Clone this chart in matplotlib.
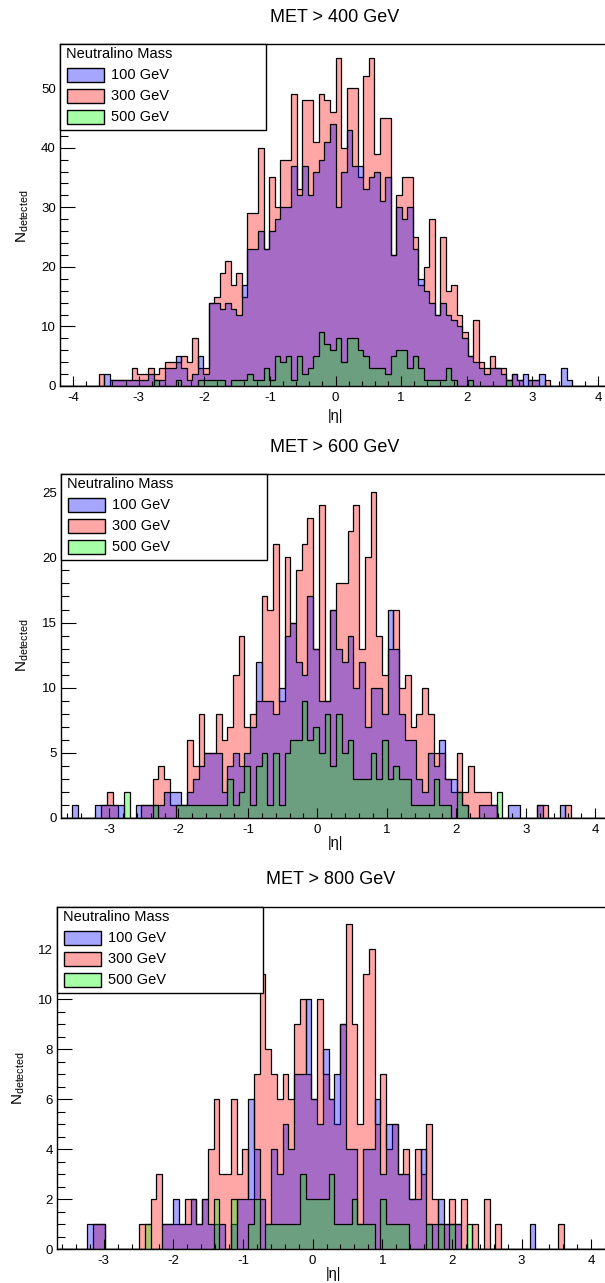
import numpy as np
import matplotlib
matplotlib.use('Agg')
import matplotlib.pyplot as plt
from matplotlib.patches import Rectangle
from matplotlib.ticker import MultipleLocator

plt.rcParams['font.family'] = ['Liberation Sans', 'DejaVu Sans']
plt.rcParams['axes.unicode_minus'] = False

# panel titles and legend text
titles = ['MET > 400 GeV', 'MET > 600 GeV', 'MET > 800 GeV']
mass_labels = ['100 GeV', '300 GeV', '500 GeV']

# binning of each panel: 100 bins, first edge + bin width
bin_lo = [-4.2, -3.69, -3.73]
bin_w = [0.084, 0.0825, 0.0825]

# counts per bin, MET > 400 GeV
red_400 = [0, 0, 0, 0, 0, 0, 0, 2, 0, 1,
           1, 1, 1, 3, 2, 2, 3, 2, 3, 4,
           4, 4, 5, 4, 8, 3, 3, 14, 15, 19,
           21, 17, 19, 15, 29, 29, 40, 23, 35, 30,
           38, 38, 49, 33, 48, 48, 41, 49, 48, 46,
           55, 40, 50, 50, 35, 52, 55, 39, 45, 45,
           22, 32, 35, 35, 25, 17, 20, 28, 12, 25,
           16, 17, 12, 9, 5, 11, 4, 3, 5, 3,
           3, 1, 2, 1, 0, 1, 1, 0, 1, 0,
           0, 0, 0, 0, 0, 0, 0, 0, 0, 0]
blue_400 = [0, 0, 0, 0, 0, 0, 0, 0, 2, 1,
            1, 1, 1, 1, 1, 1, 2, 1, 1, 3,
            3, 5, 3, 1, 2, 5, 2, 14, 14, 13,
            14, 13, 12, 17, 23, 23, 26, 23, 26, 28,
            30, 30, 37, 32, 37, 32, 36, 38, 41, 44,
            30, 36, 43, 37, 37, 33, 35, 36, 31, 35,
            22, 30, 28, 30, 23, 18, 16, 14, 12, 14,
            12, 11, 10, 8, 5, 4, 3, 2, 3, 3,
            2, 1, 2, 1, 2, 1, 1, 2, 0, 0,
            0, 3, 1, 0, 0, 0, 0, 0, 0, 0]
green_400 = [0, 0, 0, 0, 0, 0, 0, 0, 0, 0,
             0, 0, 0, 0, 0, 0, 0, 1, 0, 0,
             0, 1, 0, 0, 0, 1, 1, 1, 1, 1,
             0, 1, 1, 1, 2, 1, 1, 3, 1, 5,
             4, 5, 1, 5, 2, 3, 5, 9, 7, 6,
             8, 4, 8, 8, 6, 5, 3, 3, 3, 2,
             5, 6, 6, 3, 5, 3, 1, 1, 1, 1,
             3, 1, 0, 0, 1, 0, 0, 0, 0, 0,
             0, 1, 0, 0, 0, 0, 0, 0, 0, 0,
             0, 0, 0, 0, 0, 0, 0, 0, 0, 0]

# counts per bin, MET > 600 GeV
red_600 = [0, 0, 0, 0, 0, 0, 0, 1, 2, 1,
           0, 0, 0, 0, 1, 1, 3, 4, 3, 1,
           1, 1, 6, 4, 8, 5, 5, 8, 6, 7,
           11, 14, 7, 8, 9, 17, 16, 21, 9, 20,
           15, 19, 21, 23, 13, 24, 9, 16, 18, 18,
           22, 24, 13, 20, 25, 14, 11, 13, 16, 10,
           11, 7, 8, 10, 8, 5, 5, 3, 2, 5,
           2, 4, 2, 2, 2, 1, 0, 0, 0, 0,
           0, 0, 0, 1, 1, 0, 0, 0, 1, 0,
           0, 0, 0, 0, 0, 0, 0, 0, 0, 0]
blue_600 = [0, 0, 1, 0, 0, 0, 1, 1, 1, 1,
            1, 0, 0, 1, 1, 1, 1, 1, 2, 2,
            2, 1, 2, 3, 4, 5, 5, 5, 2, 4,
            5, 4, 5, 7, 12, 9, 9, 8, 10, 14,
            15, 12, 11, 17, 13, 9, 9, 16, 13, 12,
            14, 10, 12, 7, 10, 10, 8, 16, 13, 8,
            6, 6, 3, 2, 5, 4, 6, 3, 3, 2,
            1, 0, 0, 1, 1, 1, 0, 0, 1, 1,
            0, 0, 0, 1, 0, 0, 0, 1, 0, 0,
            0, 0, 0, 0, 0, 0, 0, 0, 0, 0]
green_600 = [0, 0, 0, 0, 0, 0, 0, 0, 0, 0,
             0, 2, 0, 0, 0, 0, 1, 0, 0, 0,
             1, 1, 1, 1, 1, 1, 1, 1, 1, 3,
             1, 2, 4, 1, 4, 5, 1, 5, 1, 5,
             6, 6, 9, 6, 7, 5, 8, 4, 8, 5,
             6, 3, 3, 3, 5, 3, 6, 3, 4, 3,
             3, 1, 1, 1, 1, 3, 1, 1, 0, 2,
             1, 0, 0, 0, 0, 0, 2, 0, 0, 0,
             0, 0, 0, 0, 0, 0, 0, 0, 0, 0,
             0, 0, 0, 0, 0, 0, 0, 0, 0, 0]

# counts per bin, MET > 800 GeV
red_800 = [0, 0, 0, 0, 0, 0, 0, 1, 1, 0,
           0, 0, 0, 0, 0, 1, 1, 2, 3, 1,
           1, 1, 1, 2, 2, 1, 2, 4, 6, 3,
           3, 6, 3, 4, 2, 7, 11, 8, 7, 6,
           7, 6, 9, 10, 7, 6, 10, 7, 6, 5,
           9, 13, 9, 5, 11, 12, 5, 7, 4, 5,
           3, 4, 2, 4, 3, 5, 2, 1, 1, 2,
           1, 2, 0, 1, 0, 2, 0, 1, 0, 0,
           0, 0, 0, 0, 0, 0, 0, 0, 1, 0,
           0, 0, 0, 0, 0, 0, 0, 0, 0, 0]
blue_800 = [0, 0, 0, 0, 0, 0, 1, 1, 1, 0,
            0, 0, 0, 0, 0, 0, 0, 0, 0, 1,
            1, 2, 1, 1, 2, 1, 2, 1, 1, 1,
            0, 1, 2, 2, 6, 4, 2, 1, 4, 3,
            5, 4, 7, 7, 10, 6, 5, 8, 6, 7,
            9, 4, 4, 1, 4, 4, 6, 3, 5, 5,
            3, 3, 2, 2, 4, 1, 1, 2, 1, 1,
            1, 0, 0, 0, 0, 0, 0, 0, 0, 0,
            0, 0, 0, 1, 0, 0, 0, 0, 0, 0,
            0, 0, 0, 0, 0, 0, 0, 0, 0, 0]
green_800 = [0, 0, 0, 0, 0, 0, 0, 0, 0, 0,
             0, 0, 0, 0, 0, 0, 1, 0, 0, 0,
             0, 0, 0, 0, 0, 0, 0, 0, 2, 0,
             0, 2, 0, 0, 1, 2, 0, 1, 1, 1,
             1, 1, 1, 3, 2, 2, 2, 2, 3, 1,
             1, 1, 2, 1, 1, 1, 0, 2, 1, 1,
             1, 1, 0, 0, 0, 1, 0, 1, 0, 1,
             0, 0, 1, 0, 0, 0, 0, 0, 0, 0,
             0, 0, 0, 0, 0, 0, 0, 0, 0, 0,
             0, 0, 0, 0, 0, 0, 0, 0, 0, 0]

W, H = 605, 1283
RED = (1.0, 0.0, 0.0, 0.35)
BLUE = (0.0, 0.0, 1.0, 0.35)
GREEN = (0.0, 1.0, 0.0, 0.35)


def fx(px):
    return px / W


def fy(py):
    return 1 - py / H


def draw_legend(fig, left, top):
    fig.add_artist(Rectangle((fx(left), fy(top + 86)), 206 / W, 86 / H,
                             transform=fig.transFigure, facecolor='white',
                             edgecolor='black', lw=1.0))
    fig.text(fx(left + 6), fy(top + 10), 'Neutralino Mass', ha='left',
             va='center', fontsize=10.5)
    for i, (lab, col) in enumerate(zip(mass_labels, [BLUE, RED, GREEN])):
        yc = top + 31 + 21 * i
        fig.add_artist(Rectangle((fx(left + 7), fy(yc + 7)), 37 / W, 14 / H,
                                 transform=fig.transFigure, facecolor=col,
                                 edgecolor='black', lw=1.0))
        fig.text(fx(left + 51), fy(yc), lab, ha='left', va='center',
                 fontsize=10.5)


# pixel layout of each panel: left, right, top, bottom, xlim, ylim, y ticks
panels = [
    dict(left=60, right=611, top=44, bottom=386, xlim=(-4.2, 4.2),
         ylim=(0, 57.4), ymaj=10, ymin=2, title_xy=(335, 18),
         xlab_xy=(335, 416), ylab_xy=(23, 216),
         data=(red_400, blue_400, green_400)),
    dict(left=61, right=637, top=474, bottom=818, xlim=(-3.69, 4.6),
         ylim=(0, 26.4), ymaj=5, ymin=1, title_xy=(335, 447),
         xlab_xy=(335, 843), ylab_xy=(23, 645),
         data=(red_600, blue_600, green_600)),
    dict(left=57, right=633, top=907, bottom=1249, xlim=(-3.67, 4.6),
         ylim=(0, 13.68), ymaj=2, ymin=0.5, title_xy=(331, 880),
         xlab_xy=(333, 1274), ylab_xy=(19, 1078),
         data=(red_800, blue_800, green_800)),
]

fig = plt.figure(figsize=(W / 100, H / 100), dpi=100)

for i, p in enumerate(panels):
    ax = fig.add_axes([fx(p['left']), fy(p['bottom']),
                       (p['right'] - p['left']) / W,
                       (p['bottom'] - p['top']) / H])
    edges = bin_lo[i] + bin_w[i] * np.arange(101)
    red, blue, green = p['data']
    for vals, col in ((red, RED), (blue, BLUE), (green, GREEN)):
        ax.stairs(vals, edges, fill=True, facecolor=col, edgecolor='black',
                  linewidth=0.9)

    ax.set_xlim(*p['xlim'])
    ax.set_ylim(*p['ylim'])
    ax.xaxis.set_major_locator(MultipleLocator(1))
    ax.xaxis.set_minor_locator(MultipleLocator(0.2))
    ax.yaxis.set_major_locator(MultipleLocator(p['ymaj']))
    ax.yaxis.set_minor_locator(MultipleLocator(p['ymin']))
    ax.tick_params(axis='both', which='both', direction='in', top=False,
                   right=False, labelsize=9.5, width=0.8)
    ax.tick_params(axis='y', which='major', length=10.5, pad=3)
    ax.tick_params(axis='y', which='minor', length=5.5)
    ax.tick_params(axis='x', which='major', length=7, pad=4)
    ax.tick_params(axis='x', which='minor', length=3.5)
    for sp in ax.spines.values():
        sp.set_linewidth(1.0)

    fig.text(fx(p['title_xy'][0]), fy(p['title_xy'][1]), titles[i],
             ha='center', va='center', fontsize=13)
    fig.text(fx(p['xlab_xy'][0]), fy(p['xlab_xy'][1]), '|η|',
             ha='center', va='center', fontsize=10.5)
    fig.text(fx(p['ylab_xy'][0]), fy(p['ylab_xy'][1]),
             r'$\mathregular{N_{detected}}$', ha='center', va='center',
             rotation=90, fontsize=11)
    draw_legend(fig, p['left'], p['top'])

fig.savefig('out.png', dpi=100)
